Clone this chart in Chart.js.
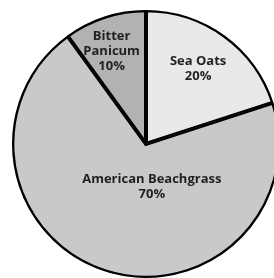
<!DOCTYPE html>
<html>
<head>
<meta charset="utf-8">
<script src="https://cdn.jsdelivr.net/npm/chart.js@4"></script>
<style>
html,body{margin:0;padding:0;background:#fff;overflow:hidden;width:274px;height:278px;}
#wrap{position:absolute;left:12px;top:10px;width:268px;height:268px;}
</style>
</head>
<body>
<div id="wrap"><canvas id="c" width="268" height="268"></canvas></div>
<script>
const categories = ["Sea Oats", "American Beachgrass", "Bitter Panicum"];
const labelLines = [["Sea Oats", "20%"], ["American Beachgrass", "70%"], ["Bitter", "Panicum", "10%"]];
const values = [20, 70, 10];
const colors = ["#e9e9ea", "#c8c9cb", "#b0b2b4"];

// label placement: radius fraction and angle offset (radians) from slice mid-angle
const labelRadius = [0.68, 0.32, 0.74];
const labelAngleShift = [-0.02, -0.45, -0.04];

const labelPlugin = {
  id: 'sliceLabels',
  afterDatasetsDraw(chart) {
    const ctx = chart.ctx;
    const meta = chart.getDatasetMeta(0);
    ctx.save();
    ctx.fillStyle = '#231f20';
    ctx.font = 'bold 13px "Open Sans", "Liberation Sans", sans-serif';
    ctx.textAlign = 'center';
    ctx.textBaseline = 'middle';
    const lh = 15;
    meta.data.forEach((arc, i) => {
      const p = arc.getProps(['x', 'y', 'startAngle', 'endAngle', 'outerRadius'], true);
      const mid = (p.startAngle + p.endAngle) / 2 + labelAngleShift[i];
      const r = p.outerRadius * labelRadius[i];
      const cx = p.x + Math.cos(mid) * r;
      const cy = p.y + Math.sin(mid) * r;
      const lines = labelLines[i];
      const y0 = cy - (lines.length - 1) * lh / 2;
      lines.forEach((t, k) => ctx.fillText(t, cx, y0 + k * lh));
    });
    ctx.restore();
  }
};

new Chart(document.getElementById('c'), {
  type: 'pie',
  data: {
    labels: categories,
    datasets: [{
      data: values,
      backgroundColor: colors,
      borderColor: '#000000',
      borderWidth: 2,
      borderAlign: 'inner',
      borderJoinStyle: 'miter'
    }]
  },
  options: {
    responsive: false,
    animation: false,
    layout: { padding: 0 },
    plugins: { legend: { display: false }, tooltip: { enabled: false } }
  },
  plugins: [labelPlugin]
});
</script>
</body>
</html>
